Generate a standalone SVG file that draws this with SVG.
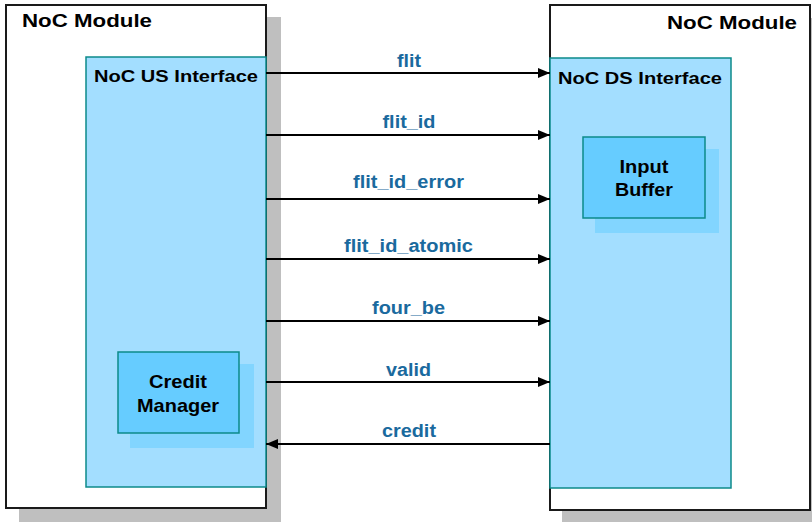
<svg xmlns="http://www.w3.org/2000/svg" width="812" height="522" viewBox="0 0 812 522">
  <defs>
    <marker id="arrow" viewBox="0 0 12 10" refX="12" refY="5" markerWidth="12" markerHeight="10" markerUnits="userSpaceOnUse" orient="auto">
      <path d="M0,0 L12,5 L0,10 Z" fill="#000"/>
    </marker>
  </defs>
  <style>
    .shadow { fill: #bfbfbf; }
    .module { fill: #ffffff; stroke: #1a1a1a; stroke-width: 2; }
    .iface { fill: #a3deff; stroke: #0d8a8a; stroke-width: 1.5; }
    .block { fill: #66ccff; stroke: #0d8a8a; stroke-width: 1.5; }
    .block-shadow { fill: #82d5ff; }
    .title { font-family: "Liberation Sans", Arial, sans-serif; font-weight: bold; fill: #000; }
    .sig { font-family: "Liberation Sans", Arial, sans-serif; font-weight: bold; font-size: 18px; fill: #1a6a9e; text-anchor: middle; }
    .wire { stroke: #000; stroke-width: 2; fill: none; }
  </style>
  <rect width="812" height="522" fill="#ffffff"/>

  <!-- upstream NoC module -->
  <g id="module-us">
    <rect class="shadow" x="19" y="17" width="262" height="505"/>
    <rect class="module" x="6" y="5" width="260" height="503"/>
    <text class="title" x="22" y="27" font-size="19" textLength="130" lengthAdjust="spacingAndGlyphs">NoC Module</text>
  </g>

  <g id="us-interface">
    <rect class="iface" x="86" y="57" width="180" height="430"/>
    <text class="title" x="94" y="82" font-size="17" textLength="164" lengthAdjust="spacingAndGlyphs">NoC US Interface</text>
  </g>

  <g id="credit-manager">
    <rect class="block-shadow" x="130" y="364" width="124" height="84"/>
    <rect class="block" x="118" y="352" width="121" height="81"/>
    <text class="title" font-size="19" text-anchor="middle" x="178" y="388" textLength="58" lengthAdjust="spacingAndGlyphs">Credit</text>
    <text class="title" font-size="19" text-anchor="middle" x="178" y="412" textLength="82" lengthAdjust="spacingAndGlyphs">Manager</text>
  </g>

  <!-- downstream NoC module -->
  <g id="module-ds">
    <rect class="shadow" x="562" y="18" width="262" height="510"/>
    <rect class="module" x="550" y="5" width="260" height="505"/>
    <text class="title" x="797" y="29" font-size="19" text-anchor="end" textLength="130" lengthAdjust="spacingAndGlyphs">NoC Module</text>
  </g>

  <g id="ds-interface">
    <rect class="iface" x="550" y="58" width="181" height="430"/>
    <text class="title" x="558" y="84" font-size="17" textLength="164" lengthAdjust="spacingAndGlyphs">NoC DS Interface</text>
  </g>

  <g id="input-buffer">
    <rect class="block-shadow" x="595" y="149" width="124" height="84"/>
    <rect class="block" x="583" y="137" width="122" height="81"/>
    <text class="title" font-size="19" text-anchor="middle" x="644" y="173" textLength="49" lengthAdjust="spacingAndGlyphs">Input</text>
    <text class="title" font-size="19" text-anchor="middle" x="644" y="196" textLength="58" lengthAdjust="spacingAndGlyphs">Buffer</text>
  </g>

  <!-- signals between the interfaces -->
  <g id="connectors">
    <line class="wire" x1="266" y1="73" x2="550" y2="73" marker-end="url(#arrow)"/>
    <line class="wire" x1="266" y1="135" x2="550" y2="135" marker-end="url(#arrow)"/>
    <line class="wire" x1="266" y1="199" x2="550" y2="199" marker-end="url(#arrow)"/>
    <line class="wire" x1="266" y1="259" x2="550" y2="259" marker-end="url(#arrow)"/>
    <line class="wire" x1="266" y1="321" x2="550" y2="321" marker-end="url(#arrow)"/>
    <line class="wire" x1="266" y1="382" x2="550" y2="382" marker-end="url(#arrow)"/>
    <line class="wire" x1="550" y1="444" x2="266" y2="444" marker-end="url(#arrow)"/>

    <text class="sig" x="409" y="67" textLength="24" lengthAdjust="spacingAndGlyphs">flit</text>
    <text class="sig" x="409" y="128" textLength="53" lengthAdjust="spacingAndGlyphs">flit_id</text>
    <text class="sig" x="408.5" y="188" textLength="111" lengthAdjust="spacingAndGlyphs">flit_id_error</text>
    <text class="sig" x="408.5" y="252" textLength="129" lengthAdjust="spacingAndGlyphs">flit_id_atomic</text>
    <text class="sig" x="408.5" y="314" textLength="73" lengthAdjust="spacingAndGlyphs">four_be</text>
    <text class="sig" x="408.5" y="376" textLength="45" lengthAdjust="spacingAndGlyphs">valid</text>
    <text class="sig" x="409" y="437" textLength="54" lengthAdjust="spacingAndGlyphs">credit</text>
  </g>
</svg>
